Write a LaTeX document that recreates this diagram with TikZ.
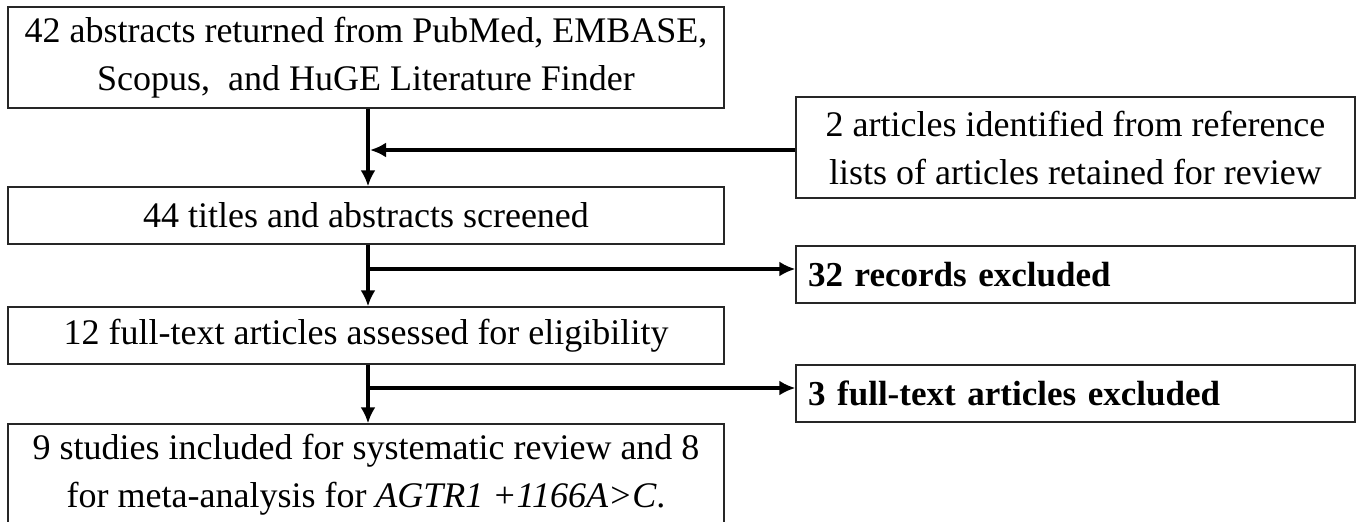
\documentclass[tikz,border=0pt]{standalone}
\usepackage{fontspec}
\setmainfont{Liberation Serif}
\usetikzlibrary{arrows.meta, positioning, calc}
\tikzset{
	boxnode/.style={
			draw=black!85,
			line width=0.65pt,
			inner sep=0pt,
			align=center,
			font=\fontsize{18pt}{24pt}\selectfont
		},
	widenode/.style={
			boxnode,
			minimum width=358pt
		},
	sidenode/.style={
			boxnode,
			minimum width=279.5pt
		},
	excludenode/.style={
			boxnode,
			text width=267.5pt,
			inner xsep=6pt,
			align=left,
			minimum height=28.5pt,
			font=\fontsize{17.5pt}{20pt}\selectfont\bfseries
		},
	flowline/.style={
			line width=2pt,
			-{Latex[length=8pt,width=7.5pt]}
		}
}

\begin{document}
\begin{tikzpicture}[x=0.5pt, y=-0.5pt]
\useasboundingbox (0,0) rectangle (1357,521);

\node[widenode, minimum height=50.5pt] (n1) at (366,57.5) {42 abstracts returned from PubMed, EMBASE,\\Scopus,~ and HuGE Literature Finder};
\node[sidenode, minimum height=50.5pt] (n2) at (1075.5,147.5) {2 articles identified from reference\\lists of articles retained for review};
\node[widenode, minimum height=28.5pt] (n3) at (366,215.5) {44 titles and abstracts screened};
\node[excludenode] (n4) at (1075.5,274.5) {32 records excluded};
\node[widenode, minimum height=28.5pt] (n5) at (366,335.5) {12 full-text articles assessed for eligibility};
\node[excludenode] (n6) at (1075.5,393.5) {3 full-text articles excluded};
\node[widenode, minimum height=50.5pt] (n7) at (366,474.5) {9 studies included for systematic review and 8\\for meta-analysis for \textit{AGTR1 +1166A>C}.};

\coordinate (j1) at (368,150);
\coordinate (j2) at (368,269);
\coordinate (j3) at (368,388);

\draw[flowline] (n1.south -| j1) -- (n3.north -| j1);
\draw[flowline, shorten >=1pt] (n2.west |- j1) -- (j1);

\draw[flowline] (n3.south -| j2) -- (n5.north -| j2);
\draw[flowline] (j2) -- (n4.west |- j2);

\draw[flowline] (n5.south -| j3) -- (n7.north -| j3);
\draw[flowline] (j3) -- (n6.west |- j3);

\end{tikzpicture}
\end{document}
